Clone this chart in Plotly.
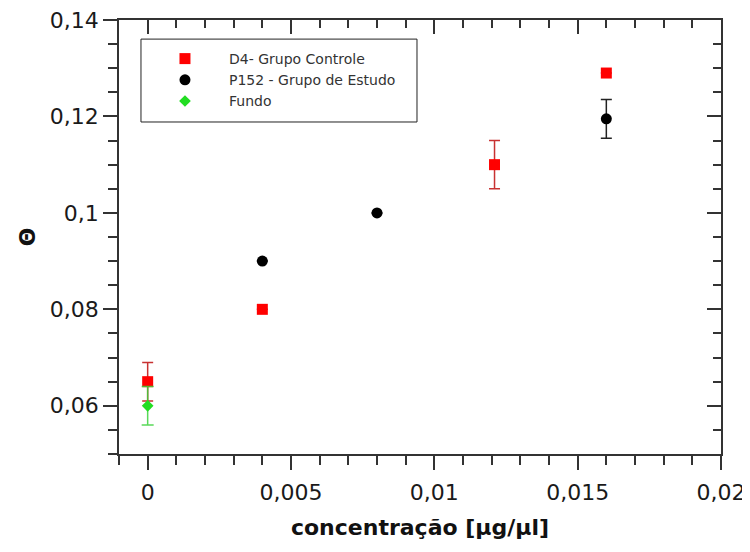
import plotly.graph_objects as go

# Data
d4_x = [0.0, 0.004, 0.0121, 0.016]
d4_y = [0.065, 0.080, 0.110, 0.129]
d4_err = [0.004, 0.0, 0.005, 0.0]

p152_x = [0.004, 0.008, 0.016]
p152_y = [0.090, 0.100, 0.1195]
p152_err = [0.0, 0.0, 0.004]

fundo_x = [0.0]
fundo_y = [0.060]
fundo_err = [0.004]

x_tick_vals = [0, 0.005, 0.01, 0.015, 0.02]
x_tick_text = ["0", "0,005", "0,01", "0,015", "0,02"]
y_tick_vals = [0.06, 0.08, 0.10, 0.12, 0.14]
y_tick_text = ["0,06", "0,08", "0,1", "0,12", "0,14"]

FONT = "DejaVu Sans"
AX = "#333333"

fig = go.Figure()
fig.add_trace(go.Scatter(
    x=d4_x, y=d4_y, mode="markers", name="D4- Grupo Controle",
    marker=dict(symbol="square", size=11, color="#ff0000"),
    error_y=dict(type="data", array=d4_err, color="#c83232", thickness=1.5, width=5.5),
))
fig.add_trace(go.Scatter(
    x=p152_x, y=p152_y, mode="markers", name="P152 - Grupo de Estudo",
    marker=dict(symbol="circle", size=11, color="#000000"),
    error_y=dict(type="data", array=p152_err, color="#222222", thickness=1.5, width=5.5),
))
fig.add_trace(go.Scatter(
    x=fundo_x, y=fundo_y, mode="markers", name="Fundo",
    marker=dict(symbol="diamond", size=9, color="#22dd22"),
    error_y=dict(type="data", array=fundo_err, color="rgba(60,210,60,0.85)", thickness=1.5, width=6),
))
# empty trace so the mirrored frame axes (top / right) are drawn
fig.add_trace(go.Scatter(
    x=[None], y=[None], xaxis="x2", yaxis="y2", mode="markers",
    showlegend=False, hoverinfo="skip",
))

xr = [-0.001, 0.02]
yr = [0.05, 0.14]

# legend frame drawn as a shape (paper coordinates)
fig.add_shape(
    type="rect", xref="paper", yref="paper",
    x0=0.0365, x1=0.495, y0=0.765, y1=0.956,
    line=dict(color="#222222", width=1), fillcolor="white", layer="below",
)

fig.update_layout(
    width=750, height=552,
    margin=dict(l=111, r=37, t=12, b=106),
    paper_bgcolor="white", plot_bgcolor="white",
    font=dict(family=FONT, color="#1a1a1a"),
    showlegend=True,
    legend=dict(
        x=0.0365, y=0.947, xanchor="left", yanchor="top",
        bgcolor="rgba(0,0,0,0)", borderwidth=0,
        font=dict(family=FONT, size=14, color="#333333"),
        itemwidth=78,
    ),
    xaxis=dict(
        range=xr, showgrid=False, zeroline=False, automargin=False,
        showline=True, linecolor=AX, linewidth=1.5,
        ticks="outside", ticklen=14, tickwidth=1.5, tickcolor=AX,
        tickmode="array", tickvals=x_tick_vals, ticktext=x_tick_text,
        tickfont=dict(family=FONT, size=22, color="#1a1a1a"),
        ticklabelstandoff=4, ticklabeloverflow="allow",
        minor=dict(dtick=0.001, tick0=0, ticks="outside", ticklen=9, tickwidth=1.5, tickcolor=AX, showgrid=False),
        title=dict(text="concentração [µg/µl]", font=dict(family=FONT, size=22, color="#111111", weight="bold"), standoff=15),
    ),
    yaxis=dict(
        range=yr, showgrid=False, zeroline=False, automargin=False,
        showline=True, linecolor=AX, linewidth=1.5,
        ticks="outside", ticklen=14, tickwidth=1.5, tickcolor=AX,
        tickmode="array", tickvals=y_tick_vals, ticktext=y_tick_text,
        tickfont=dict(family=FONT, size=22, color="#1a1a1a"),
        ticklabeloverflow="allow",
        minor=dict(dtick=0.005, tick0=0, ticks="outside", ticklen=9, tickwidth=1.5, tickcolor=AX, showgrid=False),
        title=dict(text="Θ", font=dict(family=FONT, size=22, color="#111111", weight="bold"), standoff=8),
    ),
    xaxis2=dict(
        overlaying="x", side="top", anchor="y", range=xr, automargin=False,
        showgrid=False, zeroline=False, showline=True, linecolor=AX, linewidth=1.5,
        ticks="inside", ticklen=14, tickwidth=1.5, tickcolor=AX,
        tickmode="array", tickvals=x_tick_vals, showticklabels=False,
        minor=dict(dtick=0.001, tick0=0, ticks="inside", ticklen=8, tickwidth=1.5, tickcolor=AX, showgrid=False),
    ),
    yaxis2=dict(
        overlaying="y", side="right", anchor="x", range=yr, automargin=False,
        showgrid=False, zeroline=False, showline=True, linecolor=AX, linewidth=1.5,
        ticks="inside", ticklen=14, tickwidth=1.5, tickcolor=AX,
        tickmode="array", tickvals=y_tick_vals, showticklabels=False,
        minor=dict(dtick=0.005, tick0=0, ticks="inside", ticklen=8, tickwidth=1.5, tickcolor=AX, showgrid=False),
    ),
)

fig.write_html("out.html")
